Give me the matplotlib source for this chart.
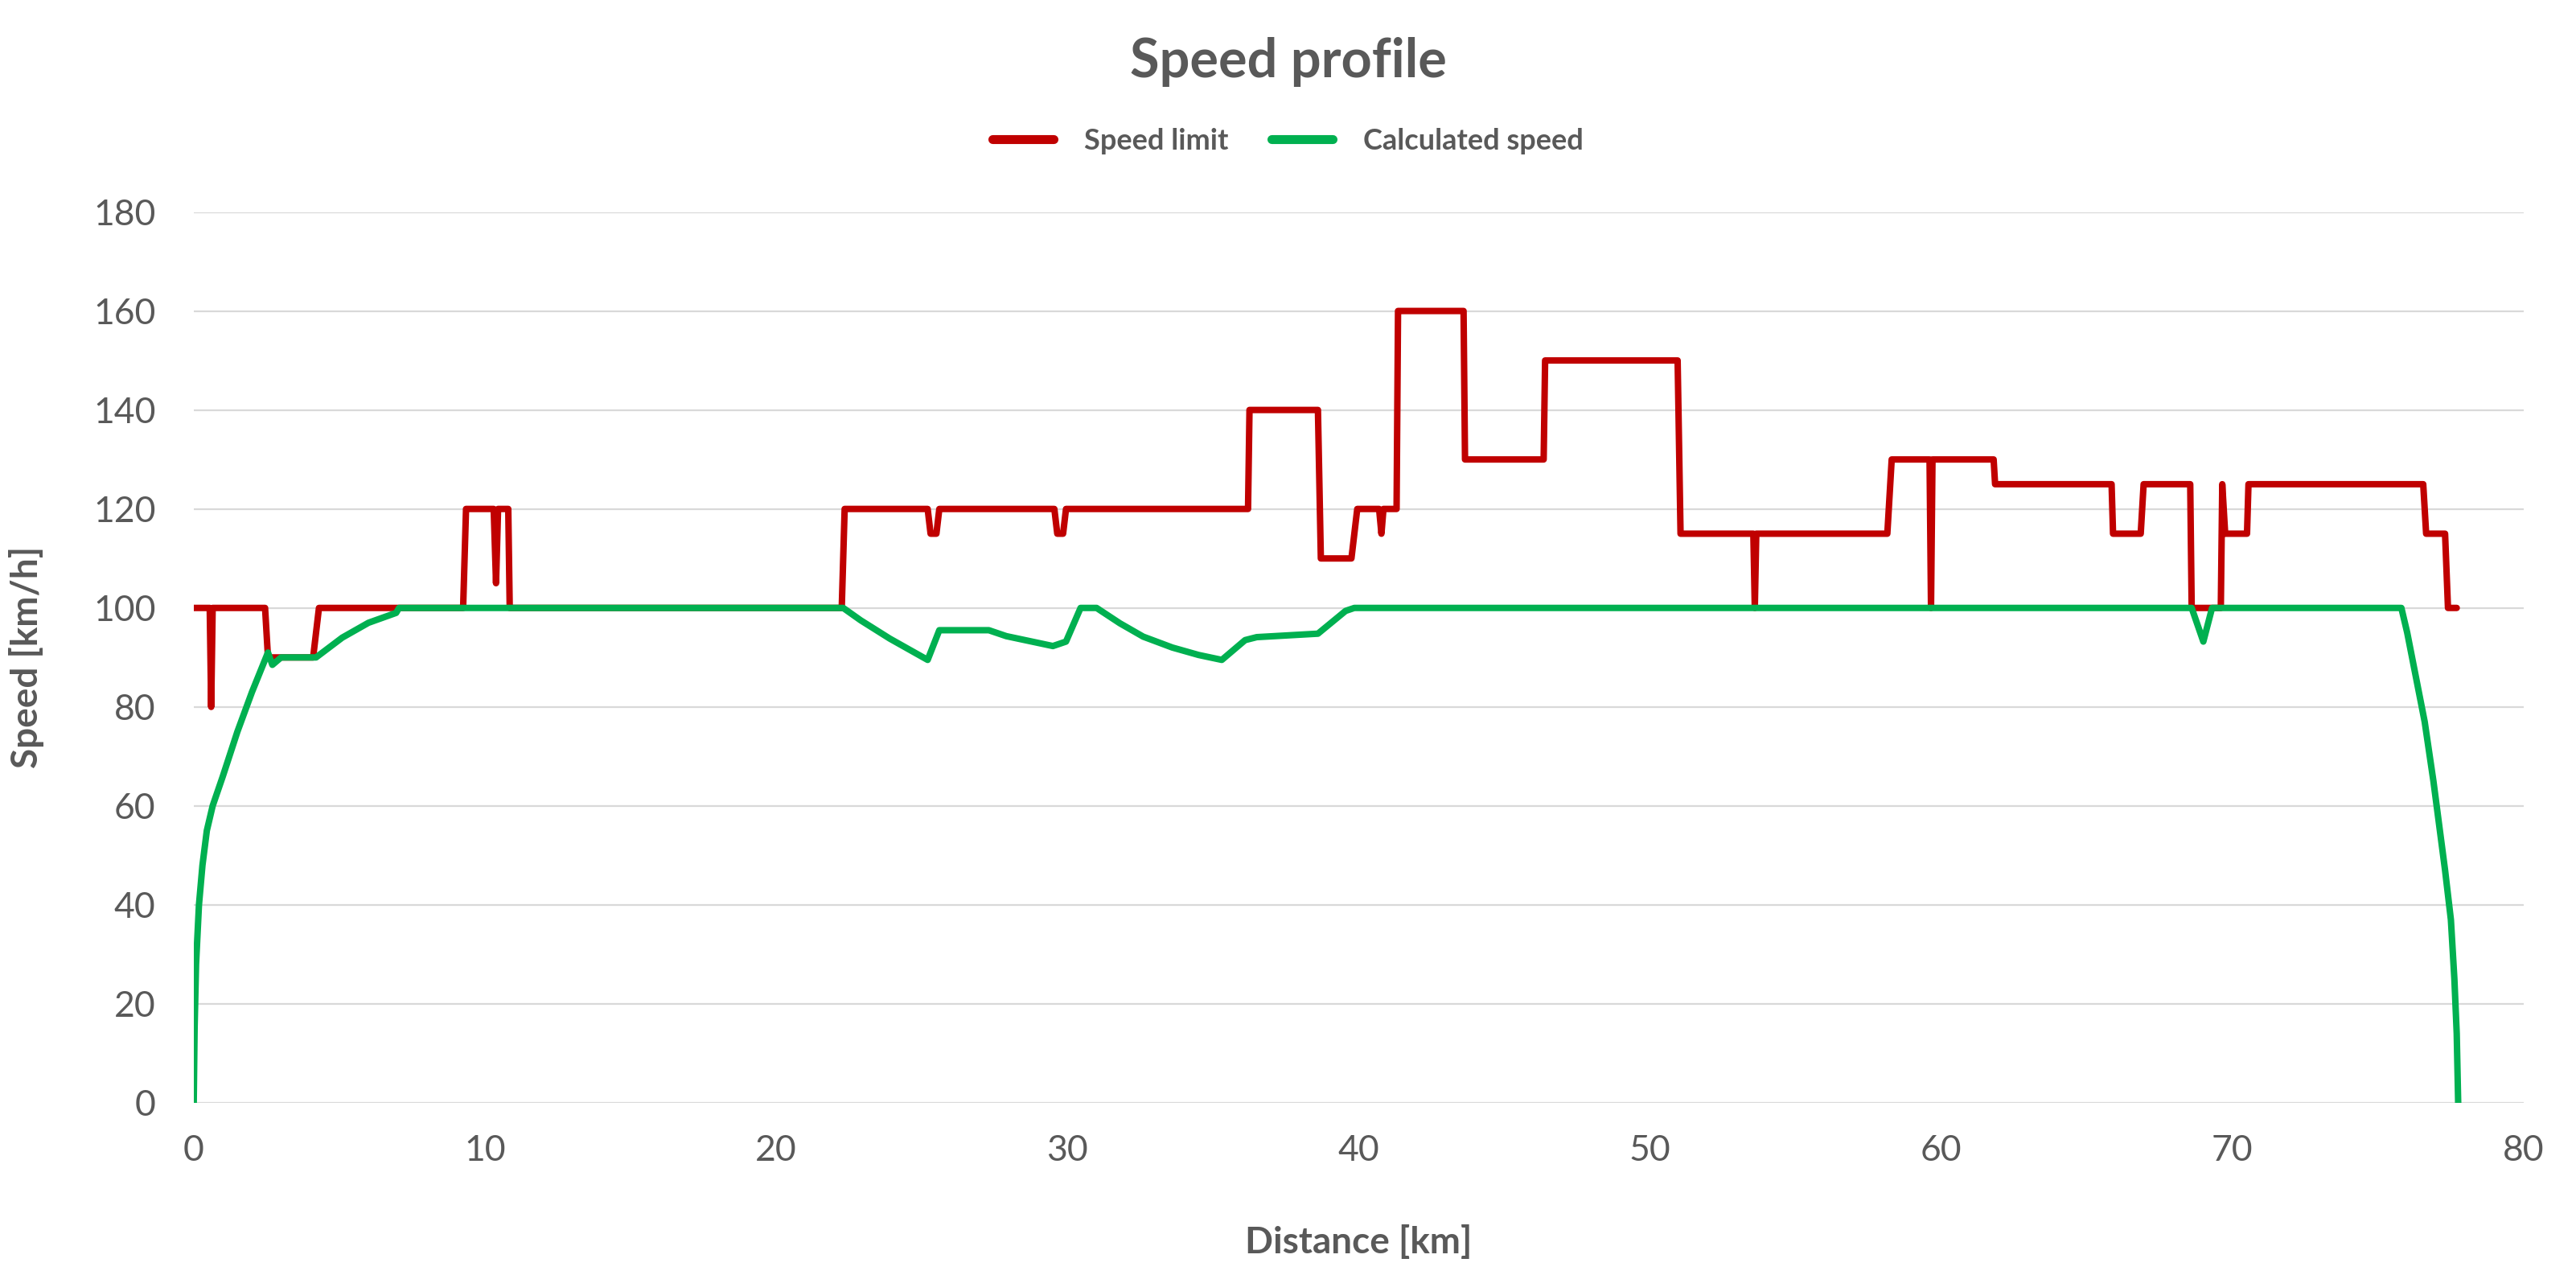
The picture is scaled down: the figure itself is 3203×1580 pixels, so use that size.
import numpy as np
import matplotlib.pyplot as plt

# speed limit (step profile), vertices
limit_km = [0, 0.55, 0.6, 0.65, 2.45, 2.55, 4.1, 4.3, 9.25, 9.35, 10.3, 10.38, 10.45, 10.8, 10.85,
            22.25, 22.35, 25.2, 25.3, 25.5, 25.6, 29.55, 29.65, 29.85, 29.95, 36.2, 36.25,
            38.6, 38.7, 39.75, 39.95, 40.7, 40.78, 40.85, 41.3, 41.35, 43.6, 43.65, 46.35, 46.4,
            50.95, 51.05, 53.55, 53.6, 53.65, 58.15, 58.3, 59.6, 59.65, 59.7, 61.8, 61.85,
            65.85, 65.9, 66.85, 66.95, 68.55, 68.6, 69.6, 69.65, 69.75, 70.5, 70.55,
            76.55, 76.65, 77.3, 77.4, 77.7]
limit_kmh = [100, 100, 80, 100, 100, 90, 90, 100, 100, 120, 120, 105, 120, 120, 100,
             100, 120, 120, 115, 115, 120, 120, 115, 115, 120, 120, 140,
             140, 110, 110, 120, 120, 115, 120, 120, 160, 160, 130, 130, 150,
             150, 115, 115, 100, 115, 115, 130, 130, 100, 130, 130, 125,
             125, 115, 115, 125, 125, 100, 100, 125, 115, 115, 125,
             125, 115, 115, 100, 100]

# calculated speed
calc_km = [0, 0.03, 0.08, 0.18, 0.3, 0.45, 0.65, 1.0, 1.5, 2.0, 2.55, 2.7, 3.0, 4.2, 5.1, 6.0,
           6.95, 7.05, 22.3, 22.9, 23.9, 25.2, 25.6, 27.3, 27.9, 29.5, 29.95, 30.45, 31.0,
           31.8, 32.6, 33.6, 34.5, 35.3, 36.1, 36.5, 38.6, 39.55, 39.85, 68.6, 69.0, 69.3,
           75.8, 76.0, 76.3, 76.6, 76.9, 77.1, 77.3, 77.5, 77.62, 77.7, 77.75]
calc_kmh = [0, 15, 28, 40, 48, 55, 60, 66, 75, 83, 91, 88.5, 90, 90, 94, 97,
            99, 100, 100, 97.5, 93.8, 89.5, 95.5, 95.5, 94.3, 92.3, 93.2, 100, 100,
            96.9, 94.2, 92, 90.5, 89.5, 93.5, 94.1, 94.8, 99.4, 100, 100, 93.2, 100,
            100, 95, 86, 77, 65, 56, 47, 37, 25, 14, 0]

plt.rcParams['font.family'] = ['Lato', 'DejaVu Sans']
gray = '#595959'

fig = plt.figure(figsize=(16.015, 7.9), dpi=200)
ax = fig.add_axes([0.0752, 0.1323, 0.9045, 0.7009])

ax.plot(limit_km, limit_kmh, color='#C00000', linewidth=2.9, solid_joinstyle='round',
        solid_capstyle='round', label='Speed limit', zorder=3)
ax.plot(calc_km, calc_kmh, color='#00B050', linewidth=2.9, solid_joinstyle='round',
        solid_capstyle='round', label='Calculated speed', zorder=4)

ax.set_xlim(0, 80)
ax.set_ylim(0, 180)
ax.set_xticks(np.arange(0, 81, 10))
ax.set_yticks(np.arange(0, 181, 20))
ax.grid(axis='y', color='#D9D9D9', linewidth=0.8)
ax.set_axisbelow(True)
for s in ax.spines.values():
    s.set_visible(False)
ax.tick_params(axis='both', length=0, labelsize=16, labelcolor=gray)
ax.tick_params(axis='y', pad=17)
ax.tick_params(axis='x', pad=14)

ax.set_xlabel('Distance [km]', fontsize=16.5, fontweight='bold', color=gray, labelpad=26)
ax.set_ylabel('Speed [km/h]', fontsize=16.5, fontweight='bold', color=gray, labelpad=22)

fig.text(0.5, 0.951, 'Speed profile', ha='center', va='center', fontsize=24,
         fontweight='bold', color=gray)
leg = fig.legend(loc='center', bbox_to_anchor=(0.5, 0.889), ncol=2, frameon=False,
                 prop={'weight': 'bold', 'size': 13}, handlelength=2.1, columnspacing=1.5,
                 handletextpad=1.05)
for t in leg.get_texts():
    t.set_color(gray)
for h in leg.get_lines():
    h.set_linewidth(4)
    h.set_solid_capstyle('round')

fig.savefig('out.png', dpi=200, facecolor='white')
